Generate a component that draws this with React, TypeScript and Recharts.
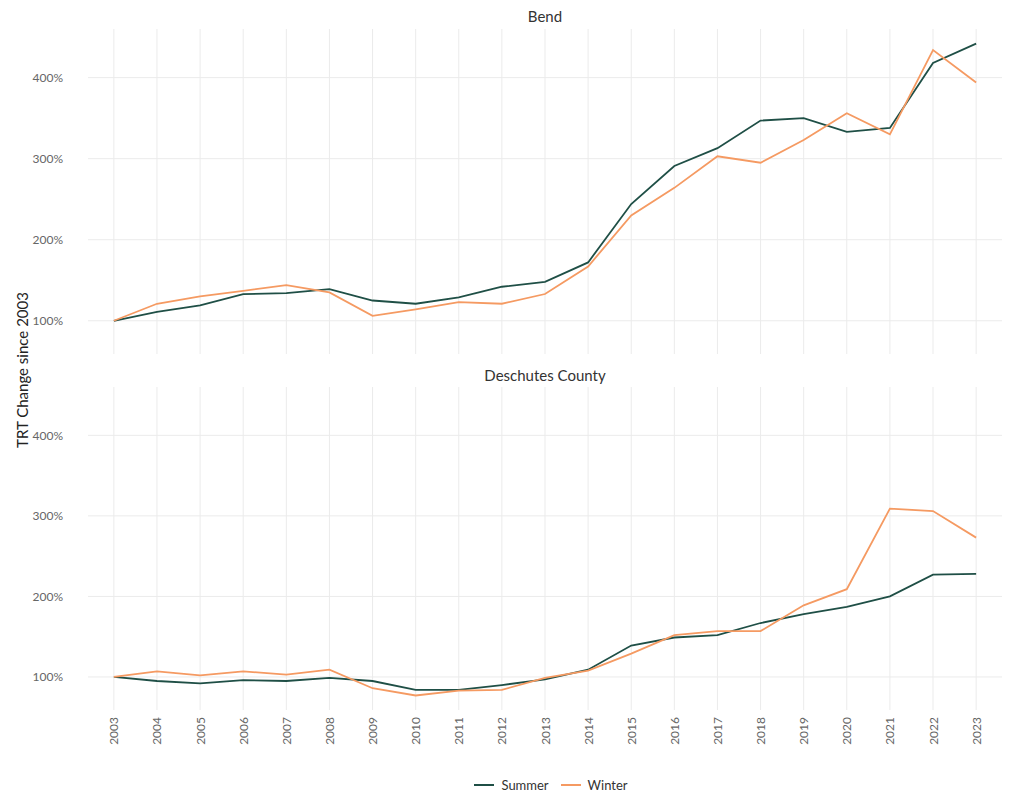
import React from 'react';
import { LineChart, Line, XAxis, YAxis, CartesianGrid } from 'recharts';

// values (percent of 2003 level)
const years = [
  2003, 2004, 2005, 2006, 2007, 2008, 2009, 2010, 2011, 2012, 2013,
  2014, 2015, 2016, 2017, 2018, 2019, 2020, 2021, 2022, 2023
];
const bendSummer = [100, 111, 119, 133, 134, 139, 125, 121, 129, 142, 148, 172, 244, 291, 313, 347, 350, 333, 338, 418, 442];
const bendWinter = [100, 121, 130, 137, 144, 135, 106, 114, 123, 121, 133, 167, 230, 264, 303, 295, 323, 356, 330, 434, 394];
const deschutesSummer = [100, 95, 92, 96, 95, 99, 95, 84, 84, 90, 97, 109, 139, 149, 152, 167, 178, 187, 200, 227, 228];
const deschutesWinter = [100, 107, 102, 107, 103, 109, 86, 77, 83, 84, 99, 108, 129, 152, 157, 157, 189, 209, 309, 306, 273];
const yTicks = [100, 200, 300, 400];

const SUMMER = '#1f4f46';
const WINTER = '#f59a62';
const GRID = '#ebebeb';
const FONT = 'Lato, "Open Sans", sans-serif';

const bendData = years.map((year, i) => ({ year, summer: bendSummer[i], winter: bendWinter[i] }));
const deschutesData = years.map((year, i) => ({ year, summer: deschutesSummer[i], winter: deschutesWinter[i] }));

const YearTick = ({ x, y, payload }: any) => (
  <text
    x={x}
    y={y}
    transform={`rotate(-90, ${x}, ${y})`}
    textAnchor="end"
    dominantBaseline="central"
    fill="#666"
    fontSize={12}
    fontFamily={FONT}
  >
    {payload.value}
  </text>
);

const Panel = ({ data, height, margin, showX }: any) => (
  <LineChart width={1012} height={height} data={data} margin={margin}>
    <CartesianGrid stroke={GRID} strokeWidth={1} horizontalValues={yTicks} verticalValues={years} />
    <XAxis
      dataKey="year"
      type="number"
      domain={[2002.4, 2023.6]}
      ticks={years}
      hide={!showX}
      height={showX ? 83 : 0}
      axisLine={false}
      tickLine={false}
      tickSize={0}
      tickMargin={7}
      interval={0}
      tick={<YearTick />}
    />
    <YAxis
      type="number"
      domain={[59, 460]}
      ticks={yTicks}
      allowDataOverflow
      width={60}
      axisLine={false}
      tickLine={false}
      tickSize={0}
      tickMargin={25}
      tickFormatter={(v) => `${v}%`}
      tick={{ fill: '#666', fontSize: 12, fontFamily: FONT }}
    />
    <Line dataKey="summer" stroke={SUMMER} strokeWidth={1.8} dot={false} isAnimationActive={false} />
    <Line dataKey="winter" stroke={WINTER} strokeWidth={1.8} dot={false} isAnimationActive={false} />
  </LineChart>
);

const titleStyle: React.CSSProperties = {
  position: 'absolute',
  left: 88,
  width: 914,
  textAlign: 'center',
  fontFamily: FONT,
  fontSize: 15,
  color: '#333',
};

export default function App() {
  return (
    <div style={{ position: 'absolute', left: 0, top: 0, width: 1012, height: 793, background: '#fff' }}>
      <div style={{ position: 'absolute', left: 0, top: 0 }}>
        <Panel data={bendData} height={360} margin={{ top: 29, right: 10, bottom: 6, left: 28 }} showX={false} />
      </div>
      <div style={{ position: 'absolute', left: 0, top: 360 }}>
        <Panel data={deschutesData} height={433} margin={{ top: 27, right: 10, bottom: 0, left: 28 }} showX />
      </div>
      <div style={{ ...titleStyle, top: 7 }}>Bend</div>
      <div style={{ ...titleStyle, top: 366 }}>Deschutes County</div>
      <div
        style={{
          position: 'absolute',
          left: 22,
          top: 370,
          transform: 'translate(-50%, -50%) rotate(-90deg)',
          whiteSpace: 'nowrap',
          fontFamily: FONT,
          fontSize: 15,
          color: '#222',
        }}
      >
        TRT Change since 2003
      </div>
      <div
        style={{
          position: 'absolute',
          top: 777,
          left: 0,
          width: 1102,
          display: 'flex',
          justifyContent: 'center',
          gap: 12,
          fontFamily: FONT,
          fontSize: 13,
          color: '#333',
        }}
      >
        {[
          { name: 'Summer', color: SUMMER },
          { name: 'Winter', color: WINTER },
        ].map((s) => (
          <div key={s.name} style={{ display: 'flex', alignItems: 'center', gap: 7 }}>
            <svg width={20} height={10}>
              <line x1={0} y1={5} x2={20} y2={5} stroke={s.color} strokeWidth={2} />
            </svg>
            <span>{s.name}</span>
          </div>
        ))}
      </div>
    </div>
  );
}
